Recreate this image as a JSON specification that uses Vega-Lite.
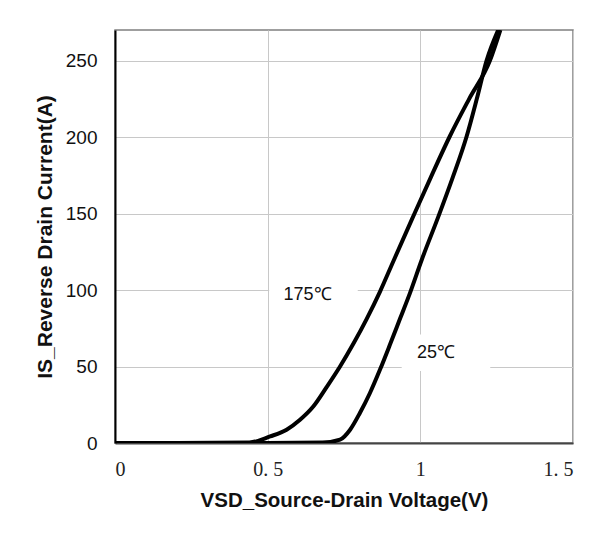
{
  "$schema": "https://vega.github.io/schema/vega-lite/v6.json",
  "width": 458,
  "height": 413,
  "autosize": {"type": "none"},
  "padding": {"left": 115, "top": 30, "right": 41, "bottom": 94},
  "background": "white",
  "config": {
    "view": {"stroke": "#808080", "strokeWidth": 1.5},
    "font": "Liberation Sans"
  },
  "datasets": {
    "curves": [
      {"v": 0, "i": 0, "t": "175"},
      {"v": 0.2, "i": 0, "t": "175"},
      {"v": 0.44, "i": 0.3, "t": "175"},
      {"v": 0.508, "i": 4.3, "t": "175"},
      {"v": 0.562, "i": 8.7, "t": "175"},
      {"v": 0.606, "i": 15.2, "t": "175"},
      {"v": 0.65, "i": 24, "t": "175"},
      {"v": 0.693, "i": 36.5, "t": "175"},
      {"v": 0.737, "i": 50, "t": "175"},
      {"v": 0.781, "i": 65, "t": "175"},
      {"v": 0.824, "i": 81, "t": "175"},
      {"v": 0.868, "i": 99, "t": "175"},
      {"v": 0.912, "i": 119, "t": "175"},
      {"v": 0.972, "i": 146, "t": "175"},
      {"v": 1.035, "i": 174, "t": "175"},
      {"v": 1.097, "i": 200.7, "t": "175"},
      {"v": 1.16, "i": 225, "t": "175"},
      {"v": 1.228, "i": 250, "t": "175"},
      {"v": 1.262, "i": 270, "t": "175"},
      {"v": 0, "i": 0, "t": "25"},
      {"v": 0.5, "i": 0, "t": "25"},
      {"v": 0.68, "i": 0.3, "t": "25"},
      {"v": 0.737, "i": 2.2, "t": "25"},
      {"v": 0.77, "i": 8.7, "t": "25"},
      {"v": 0.802, "i": 19.6, "t": "25"},
      {"v": 0.835, "i": 32.7, "t": "25"},
      {"v": 0.868, "i": 48, "t": "25"},
      {"v": 0.9, "i": 64, "t": "25"},
      {"v": 0.934, "i": 81.5, "t": "25"},
      {"v": 0.966, "i": 98, "t": "25"},
      {"v": 1.005, "i": 120, "t": "25"},
      {"v": 1.059, "i": 148, "t": "25"},
      {"v": 1.105, "i": 173, "t": "25"},
      {"v": 1.152, "i": 200.7, "t": "25"},
      {"v": 1.185, "i": 225, "t": "25"},
      {"v": 1.217, "i": 250, "t": "25"},
      {"v": 1.255, "i": 270, "t": "25"}
    ],
    "labels": [
      {"v": 0.6305, "i": 97, "x1": 0.505, "x2": 0.795, "y1": 92, "y2": 106, "txt": "175℃"},
      {"v": 1.051, "i": 59, "x1": 0.939, "x2": 1.229, "y1": 47, "y2": 71, "txt": "25℃"}
    ]
  },
  "layer": [
    {
      "data": {"name": "labels"},
      "mark": {"type": "rect", "fill": "white", "stroke": null},
      "encoding": {
        "x": {"field": "x1", "type": "quantitative", "scale": {"domain": [0, 1.5], "nice": false, "zero": false}},
        "x2": {"field": "x2"},
        "y": {"field": "y1", "type": "quantitative", "scale": {"domain": [0, 270], "nice": false}},
        "y2": {"field": "y2"}
      }
    },
    {
      "data": {"name": "curves"},
      "mark": {"type": "line", "color": "black", "strokeWidth": 4, "interpolate": "monotone", "clip": true},
      "encoding": {
        "x": {
          "field": "v", "type": "quantitative",
          "scale": {"domain": [0, 1.5], "nice": false, "zero": false},
          "axis": {
            "title": "VSD_Source-Drain Voltage(V)",
            "values": [0, 0.5, 1, 1.5],
            "labelExpr": "datum.value == 0.5 ? '0. 5' : datum.value == 1.5 ? '1. 5' : datum.value == 1 ? '1' : '0'",
            "labelFont": "Liberation Serif",
            "labelFontSize": 20,
            "labelColor": "#222",
            "labelPadding": 16,
            "ticks": false,
            "grid": true,
            "gridColor": "#c8c8c8",
            "gridWidth": 1,
            "domainColor": "#444",
            "domainWidth": 2,
            "titleFont": "Liberation Sans",
            "titleFontSize": 20.5,
            "titleFontWeight": "bold",
            "titleColor": "#111",
            "titleBaseline": "middle",
            "titleY": 57
          }
        },
        "y": {
          "field": "i", "type": "quantitative",
          "scale": {"domain": [0, 270], "nice": false},
          "axis": {
            "title": "IS_Reverse Drain Current(A)",
            "values": [0, 50, 100, 150, 200, 250],
            "labelFont": "Liberation Sans",
            "labelFontSize": 19,
            "labelColor": "#111",
            "labelPadding": 18,
            "ticks": false,
            "grid": true,
            "gridColor": "#c8c8c8",
            "gridWidth": 1,
            "domainColor": "black",
            "domainWidth": 2,
            "titleFont": "Liberation Sans",
            "titleFontSize": 21,
            "titleFontWeight": "bold",
            "titleColor": "#111",
            "titleBaseline": "middle",
            "titleX": -70
          }
        },
        "detail": {"field": "t", "type": "nominal"}
      }
    },
    {
      "data": {"name": "labels"},
      "mark": {"type": "text", "font": "Liberation Sans", "fontSize": 18, "color": "#111", "align": "center", "baseline": "middle"},
      "encoding": {
        "x": {"field": "v", "type": "quantitative"},
        "y": {"field": "i", "type": "quantitative"},
        "text": {"field": "txt", "type": "nominal"}
      }
    }
  ]
}
